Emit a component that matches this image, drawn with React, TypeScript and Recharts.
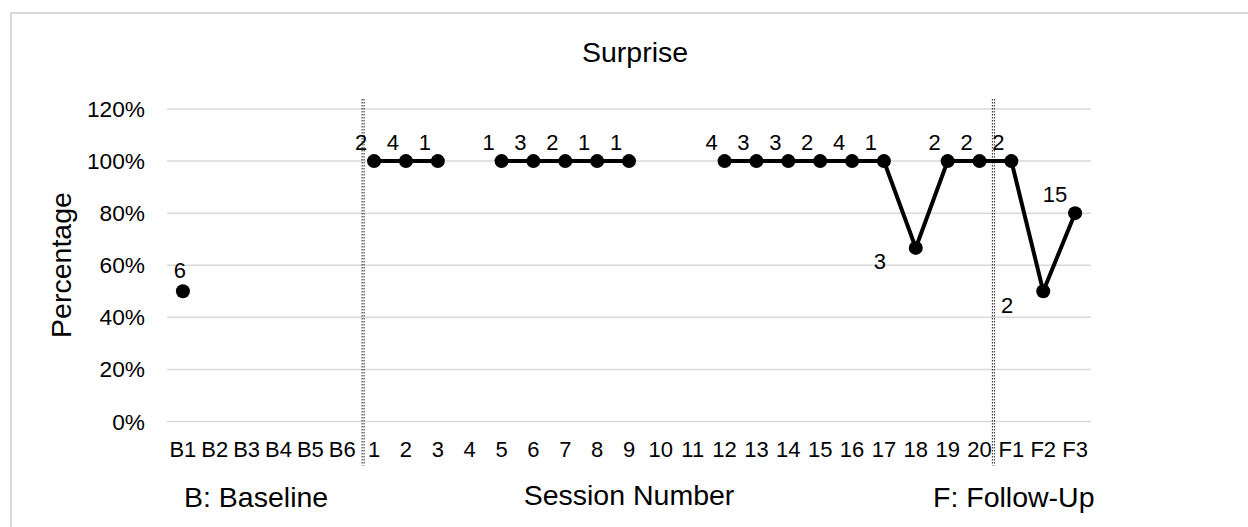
import React from 'react';
import { LineChart, Line, XAxis, YAxis, CartesianGrid, ReferenceLine } from 'recharts';

const sessions = [
  'B1', 'B2', 'B3', 'B4', 'B5', 'B6',
  '1', '2', '3', '4', '5', '6', '7', '8', '9', '10',
  '11', '12', '13', '14', '15', '16', '17', '18', '19', '20',
  'F1', 'F2', 'F3',
];

const percentages: (number | null)[] = [
  0.5, null, null, null, null, null,
  1, 1, 1, null, 1, 1, 1, 1, 1, null,
  null, 1, 1, 1, 1, 1, 1, 0.6667, 1, 1,
  1, 0.5, 0.8,
];

const counts: (number | null)[] = [
  6, null, null, null, null, null,
  2, 4, 1, null, 1, 3, 2, 1, 1, null,
  null, 4, 3, 3, 2, 4, 1, 3, 2, 2,
  2, 2, 15,
];

const yTicks = [0, 0.2, 0.4, 0.6, 0.8, 1.0, 1.2];

const phaseStarts = ['1', 'F1'];

const data = sessions.map((s, i) => ({ session: s, pct: percentages[i], n: counts[i] }));

const FONT = '"Liberation Sans", Arial, Helvetica, sans-serif';

const renderDot = (props: any) => {
  const { cx, cy, index } = props;
  const key = `dot-${index}`;
  const cur = percentages[index];
  if (cx == null || cy == null || cur == null) return <g key={key} />;
  const prev = index > 0 ? percentages[index - 1] : null;
  const next = index < percentages.length - 1 ? percentages[index + 1] : null;
  const label = counts[index];
  let dx = -13;
  let dy = -19;
  if (prev == null && next == null) {
    dx = -3;
    dy = -21;
  } else if (prev != null && prev > cur) {
    dx = -36;
    dy = 14;
  }
  const len = String(label ?? '').length;
  dx -= (len - 1) * 7;
  return (
    <g key={key}>
      <circle cx={cx} cy={cy} r={7} fill="#000" />
      {label != null && (
        <text
          x={cx + dx}
          y={cy + dy}
          textAnchor="middle"
          dominantBaseline="central"
          fontSize={22}
          fontFamily={FONT}
          fill="#000"
        >
          {label}
        </text>
      )}
    </g>
  );
};

const makeDivider = (shift: number) => (props: any) => {
  const { x1, y1, y2 } = props;
  if (x1 == null) return <g />;
  const top = Math.min(y1, y2) - 10;
  const bottom = Math.max(y1, y2) + 44;
  const x = x1 + shift;
  return (
    <g>
      <line x1={x} x2={x} y1={top} y2={bottom} stroke="#222" strokeWidth={1} strokeDasharray="1.5 1.5" />
      <line x1={x + 2} x2={x + 2} y1={top} y2={bottom} stroke="#222" strokeWidth={1} strokeDasharray="1.5 1.5" />
    </g>
  );
};

const dividerShifts = [-12, -19];

export default function App() {
  return (
    <div
      style={{
        position: 'fixed',
        left: 0,
        top: 0,
        width: 1248,
        height: 527,
        overflow: 'hidden',
        background: '#fff',
        fontFamily: FONT,
      }}
    >
      <div
        style={{
          position: 'absolute',
          left: 10,
          top: 12,
          width: 1300,
          height: 600,
          border: '2px solid #d9d9d9',
          boxSizing: 'border-box',
        }}
      />
      <div style={{ position: 'absolute', left: 0, top: 0 }}>
        <LineChart
          width={1248}
          height={527}
          data={data}
          margin={{ top: 109, right: 157, bottom: 65.5, left: 0 }}
        >
          <CartesianGrid vertical={false} stroke="#d9d9d9" strokeWidth={1.5} />
          <XAxis
            dataKey="session"
            type="category"
            interval={0}
            axisLine={false}
            tickLine={false}
            tickSize={0}
            tickMargin={20}
            height={40}
            padding={{ left: 15.9, right: 15.9 }}
            tick={{ fontSize: 22, fill: '#000', fontFamily: FONT }}
          />
          <YAxis
            domain={[0, 1.2]}
            ticks={yTicks}
            width={167}
            axisLine={false}
            tickLine={false}
            tickSize={0}
            tickMargin={22}
            tickFormatter={(v: number) => `${Math.round(v * 100)}%`}
            tick={{ fontSize: 22.7, fill: '#000', fontFamily: FONT }}
          />
          {phaseStarts.map((s, i) => (
            <ReferenceLine key={s} x={s} ifOverflow="visible" shape={makeDivider(dividerShifts[i])} />
          ))}
          <Line
            type="linear"
            dataKey="pct"
            stroke="#000"
            strokeWidth={4}
            connectNulls={false}
            dot={renderDot}
            activeDot={false}
            isAnimationActive={false}
          />
        </LineChart>
      </div>
      <svg
        width={1248}
        height={527}
        style={{ position: 'absolute', left: 0, top: 0, pointerEvents: 'none' }}
      >
        <text x={635} y={62} textAnchor="middle" fontSize={28.5} fontFamily={FONT} fill="#000">
          Surprise
        </text>
        <text
          transform="translate(71,265) rotate(-90)"
          textAnchor="middle"
          fontSize={28.5}
          fontFamily={FONT}
          fill="#000"
        >
          Percentage
        </text>
        <text x={629} y={505} textAnchor="middle" fontSize={28.5} fontFamily={FONT} fill="#000">
          Session Number
        </text>
        <text x={184} y={507} textAnchor="start" fontSize={28.5} fontFamily={FONT} fill="#000">
          B: Baseline
        </text>
        <text x={933} y={507} textAnchor="start" fontSize={28.5} fontFamily={FONT} fill="#000">
          F: Follow-Up
        </text>
      </svg>
    </div>
  );
}
